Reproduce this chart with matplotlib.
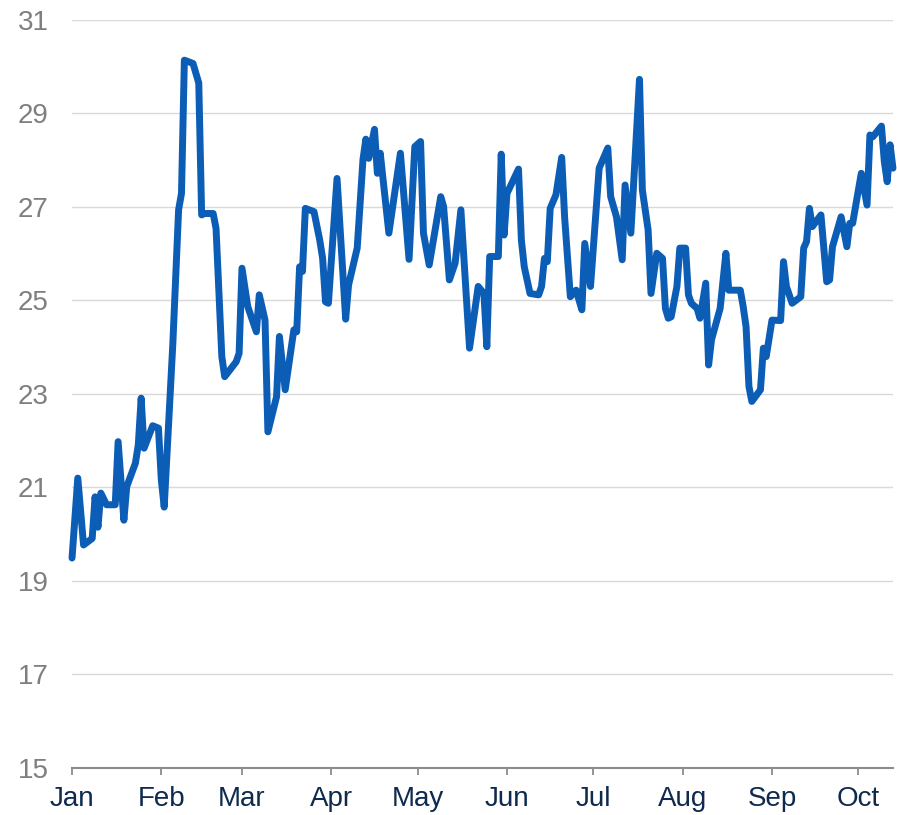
import numpy as np
import pandas as pd
import matplotlib
matplotlib.use('Agg')
import matplotlib.pyplot as plt
import matplotlib.dates as mdates

# data (line vertices)
dates = ['2023-01-01', '2023-01-03', '2023-01-05', '2023-01-08', '2023-01-09', '2023-01-10',
         '2023-01-11', '2023-01-13', '2023-01-16', '2023-01-17', '2023-01-19', '2023-01-20',
         '2023-01-23', '2023-01-24', '2023-01-25', '2023-01-26', '2023-01-29', '2023-01-31',
         '2023-02-01', '2023-02-02', '2023-02-05', '2023-02-07', '2023-02-08', '2023-02-09',
         '2023-02-12', '2023-02-14', '2023-02-15', '2023-02-16', '2023-02-19', '2023-02-20',
         '2023-02-22', '2023-02-23', '2023-02-27', '2023-02-28', '2023-03-01', '2023-03-03',
         '2023-03-06', '2023-03-07', '2023-03-09', '2023-03-10', '2023-03-13', '2023-03-14',
         '2023-03-16', '2023-03-19', '2023-03-20', '2023-03-21', '2023-03-22', '2023-03-23',
         '2023-03-26', '2023-03-28', '2023-03-29', '2023-03-30', '2023-03-31', '2023-04-03',
         '2023-04-06', '2023-04-07', '2023-04-10', '2023-04-12', '2023-04-13', '2023-04-14',
         '2023-04-16', '2023-04-17', '2023-04-18', '2023-04-21', '2023-04-25', '2023-04-28',
         '2023-04-30', '2023-05-02', '2023-05-03', '2023-05-05', '2023-05-09', '2023-05-10',
         '2023-05-12', '2023-05-14', '2023-05-16', '2023-05-19', '2023-05-22', '2023-05-24',
         '2023-05-25', '2023-05-26', '2023-05-29', '2023-05-30', '2023-05-31', '2023-06-01',
         '2023-06-05', '2023-06-06', '2023-06-07', '2023-06-09', '2023-06-12', '2023-06-13',
         '2023-06-14', '2023-06-15', '2023-06-16', '2023-06-18', '2023-06-20', '2023-06-21',
         '2023-06-23', '2023-06-25', '2023-06-27', '2023-06-28', '2023-06-30', '2023-07-03',
         '2023-07-06', '2023-07-07', '2023-07-09', '2023-07-11', '2023-07-12', '2023-07-14',
         '2023-07-17', '2023-07-18', '2023-07-20', '2023-07-21', '2023-07-23', '2023-07-25',
         '2023-07-26', '2023-07-27', '2023-07-28', '2023-07-30', '2023-07-31', '2023-08-02',
         '2023-08-03', '2023-08-04', '2023-08-06', '2023-08-07', '2023-08-09', '2023-08-10',
         '2023-08-11', '2023-08-14', '2023-08-16', '2023-08-17', '2023-08-21', '2023-08-22',
         '2023-08-23', '2023-08-24', '2023-08-25', '2023-08-28', '2023-08-29', '2023-08-30',
         '2023-09-01', '2023-09-04', '2023-09-05', '2023-09-06', '2023-09-08', '2023-09-11',
         '2023-09-12', '2023-09-13', '2023-09-14', '2023-09-15', '2023-09-18', '2023-09-20',
         '2023-09-21', '2023-09-22', '2023-09-25', '2023-09-27', '2023-09-28', '2023-09-29',
         '2023-10-02', '2023-10-04', '2023-10-05', '2023-10-06', '2023-10-09', '2023-10-10',
         '2023-10-11', '2023-10-12', '2023-10-13']

values = [19.49, 21.20, 19.77, 19.91, 20.80, 20.15,
          20.88, 20.63, 20.63, 21.98, 20.30, 21.02,
          21.52, 21.91, 22.91, 21.84, 22.32, 22.27,
          21.16, 20.58, 24.08, 26.94, 27.29, 30.14,
          30.07, 29.65, 26.83, 26.86, 26.86, 26.54,
          23.80, 23.37, 23.69, 23.87, 25.69, 24.87,
          24.33, 25.12, 24.58, 22.19, 22.94, 24.23,
          23.09, 24.37, 24.33, 25.72, 25.62, 26.97,
          26.90, 26.29, 25.90, 24.97, 24.94, 27.61,
          24.60, 25.33, 26.12, 28.01, 28.45, 28.04,
          28.66, 27.72, 28.15, 26.44, 28.15, 25.88,
          28.29, 28.40, 26.44, 25.76, 27.22, 27.01,
          25.44, 25.80, 26.94, 23.98, 25.30, 25.15,
          24.01, 25.94, 25.94, 28.13, 26.40, 27.29,
          27.81, 26.29, 25.72, 25.15, 25.12, 25.30,
          25.90, 25.83, 26.97, 27.26, 28.06, 26.79,
          25.08, 25.22, 24.80, 26.22, 25.30, 27.83,
          28.26, 27.22, 26.79, 25.87, 27.47, 26.44,
          29.73, 27.36, 26.51, 25.15, 26.01, 25.90,
          24.83, 24.62, 24.65, 25.30, 26.12, 26.12,
          25.12, 24.94, 24.83, 24.62, 25.37, 23.62,
          24.16, 24.83, 26.01, 25.22, 25.22, 24.87,
          24.44, 23.16, 22.84, 23.09, 23.98, 23.80,
          24.58, 24.57, 25.83, 25.30, 24.94, 25.08,
          26.12, 26.26, 26.97, 26.58, 26.83, 25.40,
          25.44, 26.15, 26.79, 26.15, 26.65, 26.65,
          27.72, 27.04, 28.54, 28.50, 28.73, 27.97,
          27.54, 28.33, 27.83]

y_ticks = [15, 17, 19, 21, 23, 25, 27, 29, 31]
month_ticks = ['2023-01-01', '2023-02-01', '2023-03-01', '2023-04-01', '2023-05-01',
               '2023-06-01', '2023-07-01', '2023-08-01', '2023-09-01', '2023-10-01']
month_labels = ['Jan', 'Feb', 'Mar', 'Apr', 'May', 'Jun', 'Jul', 'Aug', 'Sep', 'Oct']

plt.rcParams['font.family'] = ['Liberation Sans', 'DejaVu Sans']

fig = plt.figure(figsize=(8.97, 8.15), dpi=100)
ax = fig.add_axes([0.0803, 0.0577, 0.9152, 0.9178])

x = pd.to_datetime(dates)
ax.plot(x, values, color='#0b5db5', linewidth=5.0, solid_joinstyle='round',
        solid_capstyle='round', zorder=3, clip_on=False)

# axes ranges
ax.set_ylim(15, 31)
ax.set_xlim(pd.Timestamp('2023-01-01'), x[-1])

# y axis: labels only, light grid
ax.set_yticks(y_ticks)
ax.tick_params(axis='y', length=0, pad=17, labelsize=20, labelcolor='#7f7f7f')
ax.yaxis.grid(True, color='#d9d9d9', linewidth=1.0)
ax.set_axisbelow(True)

# x axis: month ticks
ax.set_xticks(pd.to_datetime(month_ticks))
ax.set_xticklabels(month_labels)
ax.tick_params(axis='x', length=5, width=1.3, color='#8c8c8c', pad=8,
               labelsize=20, labelcolor='#0e2a4e')

for s in ['top', 'right', 'left']:
    ax.spines[s].set_visible(False)
ax.spines['bottom'].set_color('#8c8c8c')
ax.spines['bottom'].set_linewidth(1.5)

plt.savefig('out.png', dpi=100)
